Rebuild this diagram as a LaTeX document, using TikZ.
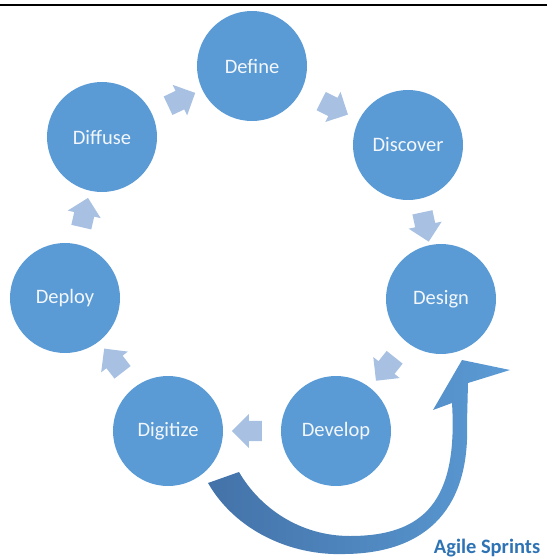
\documentclass[tikz,border=0pt]{standalone}
\usepackage{fontspec}
\setmainfont{Carlito}
\usepackage{tikz}
\usetikzlibrary{shapes.arrows}
\definecolor{phaseblue}{HTML}{5B9BD5}
\definecolor{flowblue}{HTML}{A8C1E3}
\definecolor{sprintdark}{HTML}{4372A8}
\definecolor{sprintlabel}{HTML}{2E74B5}
\definecolor{phasetext}{HTML}{F3F7FC}

\begin{document}
\begin{tikzpicture}[x=0.03cm,y=-0.03cm,
    phase/.style={circle,fill=phaseblue,minimum size=3.3cm,inner sep=0pt,
        text=phasetext,font=\fontsize{17.5}{20}\selectfont},
    flow/.style={single arrow,fill=flowblue,inner xsep=0pt,inner ysep=0.3cm,
        minimum height=0.9cm,single arrow head extend=0.2cm,sloped,allow upside down}]
   \useasboundingbox (0,0) rectangle (547,559);
   \draw[line width=1.7pt] (0,5) -- (547,5);

   \draw (252,66) node[phase] (define) {Define};
   \draw (408,145) node[phase] (discover) {Discover};
   \draw (441,299) node[phase] (design) {Design};
   \draw (336,431) node[phase] (develop) {Develop};
   \draw (168,431) node[phase] (digitize) {Digitize};
   \draw (65,298) node[phase] (deploy) {Deploy};
   \draw (102,137) node[phase] (diffuse) {Diffuse};

       \path (define) -- node[flow] {} (discover);
       \path (discover) -- node[flow] {} (design);
       \path (design) -- node[flow] {} (develop);
       \path (develop) -- node[flow] {} (digitize);
       \path (digitize) -- node[flow] {} (deploy);
       \path (deploy) -- node[flow] {} (diffuse);
       \path (diffuse) -- node[flow] {} (define);

   % the sprint loop
   \shade[left color=sprintdark,right color=phaseblue]
      (208,483) .. controls (235,530) and (290,556) .. (345,554)
      .. controls (430,553) and (470,505) .. (467,423) -- (468,383)
      -- (510,370) -- (462,360) -- (433,410) -- (452,403)
      .. controls (458,500) and (425,536) .. (350,536)
      .. controls (300,536) and (260,508) .. (239,472) -- cycle;
   \draw (487,548) node[text=sprintlabel,font=\fontsize{17.5}{20}\selectfont\bfseries] (sprints) {Agile Sprints};

\end{tikzpicture}
\end{document}
